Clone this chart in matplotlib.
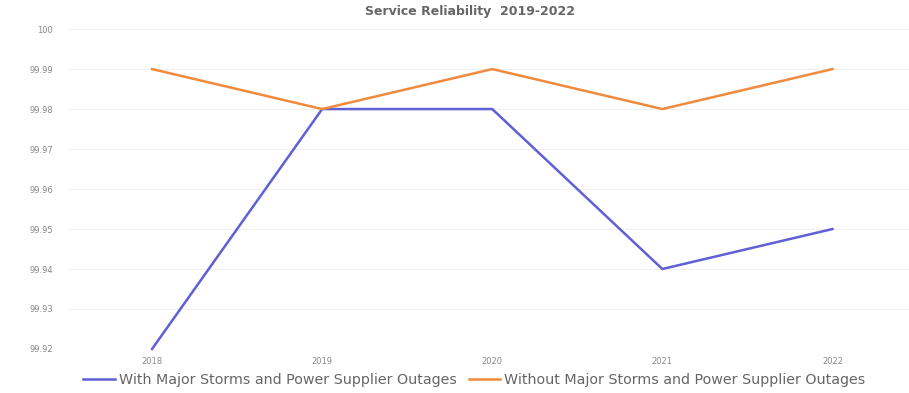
import matplotlib
matplotlib.use("Agg")
import matplotlib.pyplot as plt

years = ["2018", "2019", "2020", "2021", "2022"]
with_storms = [99.92, 99.98, 99.98, 99.94, 99.95]
without_storms = [99.99, 99.98, 99.99, 99.98, 99.99]
y_ticks = [99.92, 99.93, 99.94, 99.95, 99.96, 99.97, 99.98, 99.99, 100.0]
y_labels = ["99.92", "99.93", "99.94", "99.95", "99.96", "99.97", "99.98", "99.99", "100"]

fig = plt.figure(figsize=(9.09, 3.93), dpi=100)
ax = fig.add_axes([0.0737, 0.112, 0.9263, 0.814])

x = range(len(years))
ax.plot(x, with_storms, color="#5f5fd6", lw=1.8, clip_on=False,
        label="With Major Storms and Power Supplier Outages")
ax.plot(x, without_storms, color="#f08a3c", lw=1.8, clip_on=False,
        label="Without Major Storms and Power Supplier Outages")

ax.set_xlim(-0.5, 4.45)
ax.set_ylim(99.92, 100.0)
ax.set_xticks(list(x))
ax.set_xticklabels(years)
ax.set_yticks(y_ticks)
ax.set_yticklabels(y_labels)
ax.tick_params(length=0, labelsize=6, colors="#888888")
ax.tick_params(axis="x", pad=6)
ax.tick_params(axis="y", pad=10)
ax.grid(axis="y", color="#f0f0f0", lw=0.8)
for s in ax.spines.values():
    s.set_visible(False)

fig.text(0.517, 0.97, "Service Reliability  2019-2022", ha="center", va="center",
         fontsize=9, color="#666666", fontweight="bold")

leg = ax.legend(loc="center", ncol=2, frameon=False, fontsize=10.3, labelcolor="#666666",
                handlelength=2.2, columnspacing=0.8, handletextpad=0.3)
leg.set_bbox_to_anchor((0.522, 0.033), transform=fig.transFigure)

fig.savefig("out.png", dpi=100, facecolor="white")
